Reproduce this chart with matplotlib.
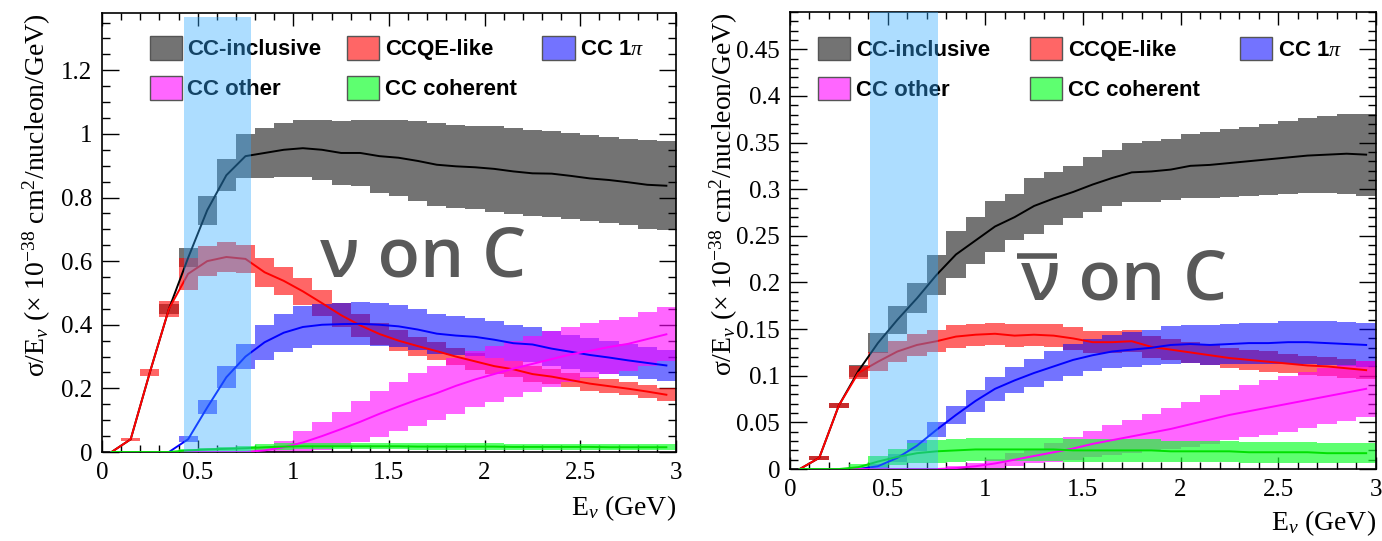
import numpy as np
import matplotlib.pyplot as plt
from matplotlib.patches import Patch
from matplotlib.ticker import MultipleLocator, FuncFormatter

plt.rcParams['font.family'] = ['Liberation Serif', 'DejaVu Serif']
plt.rcParams['mathtext.fontset'] = 'custom'
plt.rcParams['mathtext.rm'] = 'Liberation Serif'
plt.rcParams['mathtext.it'] = 'Liberation Serif:italic'

# 0.1 GeV energy bins, 0 - 3 GeV
e_centers = np.arange(0.05, 3.0, 0.1)

# neutrino on carbon: sigma/E (1e-38 cm2/nucleon/GeV) and uncertainty
incl_nu = [0.0, 0.04, 0.25, 0.45, 0.61, 0.76, 0.87, 0.93, 0.94, 0.95,
           0.955, 0.95, 0.94, 0.94, 0.93, 0.925, 0.915, 0.903, 0.898, 0.895,
           0.89, 0.882, 0.876, 0.875, 0.868, 0.86, 0.855, 0.848, 0.84, 0.837]
incl_nu_err = [0.0, 0.0, 0.0, 0.015, 0.03, 0.045, 0.05, 0.07, 0.08, 0.085,
               0.09, 0.095, 0.1, 0.105, 0.115, 0.12, 0.125, 0.13, 0.13, 0.13,
               0.135, 0.135, 0.135, 0.135, 0.135, 0.135, 0.135, 0.135, 0.14, 0.14]
ccqe_nu = [0.0, 0.04, 0.25, 0.45, 0.56, 0.60, 0.613, 0.607, 0.565, 0.538,
           0.505, 0.468, 0.43, 0.398, 0.371, 0.35, 0.333, 0.317, 0.30, 0.285,
           0.27, 0.26, 0.245, 0.237, 0.226, 0.215, 0.207, 0.199, 0.19, 0.18]
ccqe_nu_err = [0.0, 0.005, 0.01, 0.025, 0.05, 0.048, 0.047, 0.045, 0.045, 0.045,
               0.042, 0.04, 0.038, 0.036, 0.034, 0.032, 0.03, 0.029, 0.028, 0.027,
               0.026, 0.025, 0.024, 0.023, 0.022, 0.022, 0.021, 0.02, 0.02, 0.02]
pi_nu = [0.0, 0.0, 0.0, 0.0, 0.04, 0.14, 0.235, 0.30, 0.345, 0.375,
         0.393, 0.40, 0.402, 0.403, 0.40, 0.395, 0.385, 0.372, 0.366, 0.362,
         0.353, 0.342, 0.338, 0.325, 0.315, 0.305, 0.297, 0.288, 0.28, 0.272]
pi_nu_err = [0.0, 0.0, 0.0, 0.0, 0.01, 0.022, 0.035, 0.04, 0.055, 0.06,
             0.065, 0.065, 0.066, 0.067, 0.067, 0.066, 0.065, 0.063, 0.062, 0.06,
             0.058, 0.056, 0.055, 0.054, 0.053, 0.052, 0.051, 0.05, 0.05, 0.05]
other_nu = [0.0, 0.0, 0.0, 0.0, 0.0, 0.0, 0.0, 0.0, 0.005, 0.015,
            0.03, 0.05, 0.072, 0.095, 0.12, 0.143, 0.165, 0.185, 0.208, 0.228,
            0.245, 0.262, 0.277, 0.292, 0.307, 0.318, 0.33, 0.34, 0.355, 0.37]
other_nu_err = [0.0, 0.0, 0.0, 0.0, 0.0, 0.0, 0.0, 0.0, 0.01, 0.02,
                0.035, 0.045, 0.055, 0.065, 0.072, 0.078, 0.082, 0.085, 0.087, 0.088,
                0.088, 0.088, 0.088, 0.088, 0.087, 0.086, 0.085, 0.085, 0.085, 0.085]
coh_nu = [0.0, 0.0, 0.0, 0.0, 0.005, 0.008, 0.01, 0.012, 0.015, 0.017,
          0.018, 0.018, 0.018, 0.018, 0.018, 0.018, 0.017, 0.017, 0.017, 0.017,
          0.017, 0.016, 0.016, 0.016, 0.016, 0.016, 0.015, 0.015, 0.015, 0.015]
coh_nu_err = [0.0, 0.0, 0.0, 0.0, 0.004, 0.005, 0.006, 0.008, 0.01, 0.01,
              0.01, 0.01, 0.01, 0.01, 0.01, 0.01, 0.01, 0.01, 0.01, 0.01,
              0.01, 0.01, 0.01, 0.01, 0.01, 0.01, 0.01, 0.01, 0.01, 0.01]

# antineutrino on carbon
incl_nub = [0.0, 0.012, 0.068, 0.105, 0.135, 0.16, 0.183, 0.208, 0.23, 0.245,
            0.26, 0.27, 0.282, 0.29, 0.297, 0.305, 0.312, 0.318, 0.319, 0.321,
            0.325, 0.326, 0.328, 0.33, 0.332, 0.334, 0.336, 0.337, 0.338, 0.337]
incl_nub_err = [0.0, 0.002, 0.003, 0.006, 0.011, 0.015, 0.016, 0.021, 0.025, 0.025,
                0.027, 0.025, 0.03, 0.028, 0.028, 0.029, 0.03, 0.032, 0.033, 0.033,
                0.034, 0.035, 0.036, 0.037, 0.038, 0.039, 0.04, 0.041, 0.043, 0.044]
ccqe_nub = [0.0, 0.012, 0.068, 0.103, 0.115, 0.126, 0.133, 0.137, 0.142, 0.144,
            0.145, 0.143, 0.144, 0.143, 0.14, 0.136, 0.136, 0.137, 0.131, 0.128,
            0.125, 0.122, 0.119, 0.117, 0.115, 0.113, 0.111, 0.11, 0.108, 0.106]
ccqe_nub_err = [0.0, 0.002, 0.003, 0.007, 0.01, 0.011, 0.012, 0.012, 0.012, 0.012,
                0.012, 0.012, 0.012, 0.012, 0.012, 0.012, 0.012, 0.012, 0.012, 0.011,
                0.011, 0.011, 0.011, 0.011, 0.011, 0.01, 0.01, 0.01, 0.01, 0.01]
pi_nub = [0.0, 0.0, 0.0, 0.0, 0.003, 0.012, 0.025, 0.042, 0.058, 0.073,
          0.086, 0.095, 0.103, 0.11, 0.117, 0.122, 0.126, 0.128, 0.13, 0.133,
          0.134, 0.133, 0.134, 0.135, 0.135, 0.136, 0.136, 0.135, 0.134, 0.133]
pi_nub_err = [0.0, 0.0, 0.0, 0.0, 0.002, 0.004, 0.006, 0.008, 0.01, 0.012,
              0.013, 0.014, 0.015, 0.016, 0.017, 0.017, 0.018, 0.019, 0.019, 0.02,
              0.02, 0.021, 0.021, 0.022, 0.022, 0.023, 0.023, 0.024, 0.024, 0.024]
other_nub = [0.0, 0.0, 0.0, 0.0, 0.0, 0.0, 0.0, 0.0, 0.001, 0.003,
             0.006, 0.01, 0.014, 0.018, 0.022, 0.027, 0.031, 0.035, 0.039, 0.043,
             0.048, 0.053, 0.058, 0.062, 0.066, 0.07, 0.074, 0.078, 0.082, 0.086]
other_nub_err = [0.0, 0.0, 0.0, 0.0, 0.0, 0.0, 0.0, 0.0, 0.002, 0.003,
                 0.005, 0.007, 0.008, 0.01, 0.012, 0.014, 0.016, 0.018, 0.02, 0.022,
                 0.024, 0.026, 0.027, 0.028, 0.029, 0.03, 0.03, 0.03, 0.03, 0.03]
coh_nub = [0.0, 0.0, 0.0, 0.002, 0.008, 0.013, 0.017, 0.019, 0.02, 0.021,
           0.021, 0.021, 0.021, 0.021, 0.02, 0.02, 0.02, 0.02, 0.02, 0.019,
           0.019, 0.019, 0.019, 0.018, 0.018, 0.018, 0.018, 0.017, 0.017, 0.017]
coh_nub_err = [0.0, 0.0, 0.0, 0.003, 0.006, 0.009, 0.011, 0.012, 0.012, 0.012,
               0.012, 0.012, 0.012, 0.012, 0.012, 0.012, 0.012, 0.012, 0.012, 0.011,
               0.011, 0.011, 0.011, 0.011, 0.011, 0.011, 0.011, 0.011, 0.011, 0.011]

labels = ['CC-inclusive', 'CCQE-like', r'CC 1$\pi$', 'CC other', 'CC coherent']
fill_colors = [(0, 0, 0, 0.55), (1, 0, 0, 0.6), (0, 0, 1, 0.55),
               (1, 0, 1, 0.6), (0.1, 1, 0.2, 0.7)]
line_colors = ['black', 'red', 'blue', '#ff00ff', '#00e000']


def draw_panel(ax, series, ymax, ymajor, yminor, band, leg_xy, colspace):
    for (val, err), fc in zip(series, fill_colors):
        val = np.array(val)
        err = np.array(err)
        ax.bar(e_centers, 2 * err, bottom=val - err, width=0.1,
               color=fc, linewidth=0, zorder=2)
    for (val, err), lc in zip(series, line_colors):
        ax.plot(e_centers, val, color=lc, lw=1.4, zorder=3)

    ax.axvspan(band[0], band[1], ymax=band[2], color='#33aaff', alpha=0.4,
               lw=0, zorder=10)

    ax.set_xlim(0, 3)
    ax.set_ylim(0, ymax)
    ax.xaxis.set_major_locator(MultipleLocator(0.5))
    ax.xaxis.set_minor_locator(MultipleLocator(0.1))
    ax.yaxis.set_major_locator(MultipleLocator(ymajor))
    ax.yaxis.set_minor_locator(MultipleLocator(yminor))
    fmt = FuncFormatter(lambda v, p: f'{v:g}')
    ax.xaxis.set_major_formatter(fmt)
    ax.yaxis.set_major_formatter(fmt)
    ax.tick_params(which='both', direction='in', top=True, right=True,
                   width=1.0, labelsize=18, pad=7)
    ax.tick_params(axis='y', which='major', length=12)
    ax.tick_params(axis='y', which='minor', length=6)
    ax.tick_params(axis='x', which='major', length=9)
    ax.tick_params(axis='x', which='minor', length=5)
    for s in ax.spines.values():
        s.set_linewidth(1.2)

    ax.set_xlabel(r'E$_{\nu}$ (GeV)', fontsize=20, loc='right')
    ax.set_ylabel(r'σ/E$_{\nu}$ (× 10$^{-38}$ cm$^{2}$/nucleon/GeV)',
                  fontsize=20, loc='top')

    handles = [Patch(facecolor=fc, edgecolor='#555555', lw=1.0)
               for fc in fill_colors]
    order = [0, 3, 1, 4, 2]
    ax.legend([handles[i] for i in order], [labels[i] for i in order],
              ncol=3, frameon=False, loc='upper left',
              bbox_to_anchor=leg_xy,
              prop={'family': 'Liberation Sans', 'weight': 'bold', 'size': 16},
              handlelength=1.45, handleheight=1.25, handletextpad=0.25,
              columnspacing=colspace, labelspacing=0.72, borderpad=0.3)


fig = plt.figure(figsize=(13.82, 5.41), dpi=100)
ax1 = fig.add_axes([0.0738, 0.1645, 0.4153, 0.8115])
ax2 = fig.add_axes([0.5716, 0.133, 0.424, 0.845])

series_nu = [(incl_nu, incl_nu_err), (ccqe_nu, ccqe_nu_err), (pi_nu, pi_nu_err),
             (other_nu, other_nu_err), (coh_nu, coh_nu_err)]
series_nub = [(incl_nub, incl_nub_err), (ccqe_nub, ccqe_nub_err),
              (pi_nub, pi_nub_err), (other_nub, other_nub_err),
              (coh_nub, coh_nub_err)]

draw_panel(ax1, series_nu, 1.38, 0.2, 0.05, (0.43, 0.78, 0.99),
           (0.052, 0.988), 1.15)
draw_panel(ax2, series_nub, 0.49, 0.05, 0.01, (0.41, 0.76, 1.0),
           (0.018, 0.985), 1.8)

ax1.yaxis.set_label_coords(-0.085, 1.0)
ax2.yaxis.set_label_coords(-0.085, 1.0)
ax1.xaxis.set_label_coords(1.0, -0.095)
ax2.xaxis.set_label_coords(1.0, -0.085)

big = dict(family=['Open Sans', 'DejaVu Sans'], weight='semibold',
           size=50, color='#595959', ha='center', va='center')
ax1.text(0.56, 0.44, 'ν on C', transform=ax1.transAxes, **big)
ax2.text(0.57, 0.41, 'ν on C', transform=ax2.transAxes, **big)
# bar over the antineutrino symbol
ax2.plot([0.388, 0.455], [0.465, 0.465], transform=ax2.transAxes,
         color='#595959', lw=4, solid_capstyle='butt')

fig.savefig('out.png', dpi=100)
